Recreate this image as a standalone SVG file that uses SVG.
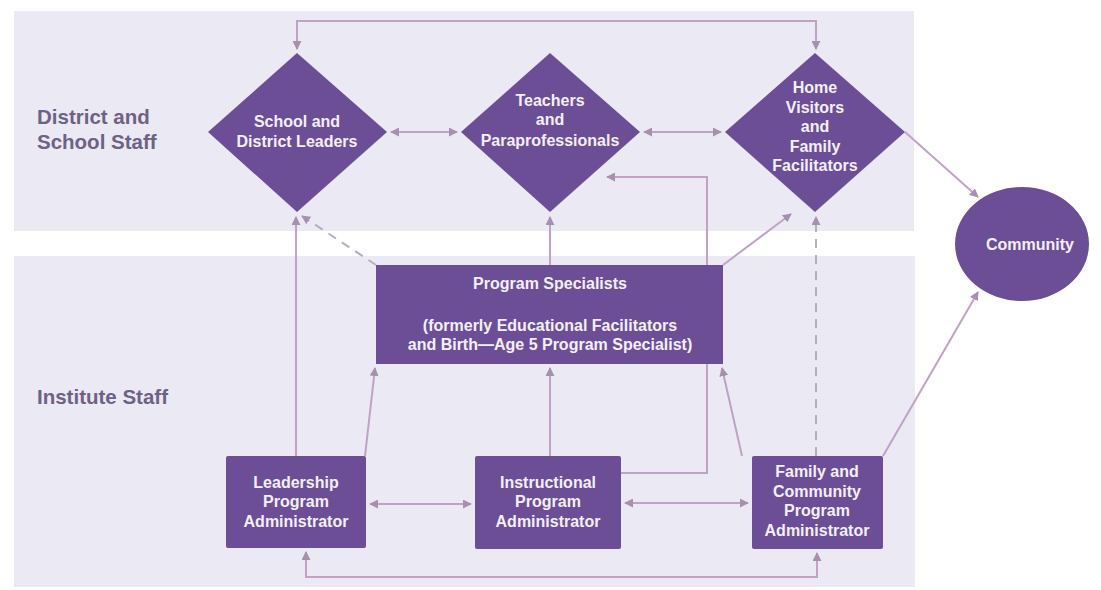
<svg xmlns="http://www.w3.org/2000/svg" width="1101" height="590" viewBox="0 0 1101 590">
<defs>
<style>
.band{fill:#ebe9f3}
.lab{font-family:"Liberation Sans",Arial,sans-serif;font-weight:bold;font-size:20.5px;fill:#6e6284}
.node{fill:#6b4e96}
.t{font-family:"Liberation Sans",Arial,sans-serif;font-weight:bold;font-size:16px;fill:#f3eff8;text-anchor:middle}
.c{fill:none;stroke:#c0a3c4;stroke-width:2}
.d{fill:none;stroke:#b9abc2;stroke-width:2;stroke-dasharray:9 7}
</style>
<marker id="ah" viewBox="0 0 10 10" refX="9" refY="5" markerWidth="4.5" markerHeight="4.5" orient="auto-start-reverse" markerUnits="strokeWidth">
<path d="M0,0 L10,5 L0,10 z" fill="#a78fae"/>
</marker>
</defs>
<rect width="1101" height="590" fill="#ffffff"/>
<rect class="band" x="14" y="11" width="900" height="220"/>
<rect class="band" x="14" y="256" width="901" height="331"/>
<text class="lab" x="37" y="124">District and</text>
<text class="lab" x="37" y="149">School Staff</text>
<text class="lab" x="37" y="404">Institute Staff</text>

<g id="connectors">
<path class="c" d="M297,49 V21 H816 V49" marker-start="url(#ah)" marker-end="url(#ah)"/>
<path class="c" d="M391,132 H457" marker-start="url(#ah)" marker-end="url(#ah)"/>
<path class="c" d="M644,132 H721" marker-start="url(#ah)" marker-end="url(#ah)"/>
<path class="c" d="M905,132 L978,197" marker-end="url(#ah)"/>
<path class="c" d="M883,456 L978,292" marker-end="url(#ah)"/>
<path class="c" d="M296,456 V217" marker-end="url(#ah)"/>
<path class="d" d="M376,265 L302,216" marker-end="url(#ah)"/>
<path class="c" d="M550,265 V217" marker-end="url(#ah)"/>
<path class="c" d="M723,265 L791,214" marker-end="url(#ah)"/>
<path class="d" d="M816,456 V217" marker-end="url(#ah)"/>
<path class="c" d="M365,456 L375,368" marker-end="url(#ah)"/>
<path class="c" d="M550,456 V368" marker-end="url(#ah)"/>
<path class="c" d="M742,456 L722,368" marker-end="url(#ah)"/>
<path class="c" d="M621,473 H707 V177 H607" marker-end="url(#ah)"/>
<path class="c" d="M370,504 H471" marker-start="url(#ah)" marker-end="url(#ah)"/>
<path class="c" d="M625,503 H748" marker-start="url(#ah)" marker-end="url(#ah)"/>
<path class="c" d="M306,552 V577 H817 V553" marker-start="url(#ah)" marker-end="url(#ah)"/>
</g>

<g id="school-leaders">
<polygon class="node" points="297,53 387,132 297,212 208,132"/>
<text class="t" x="297" y="127">School and</text>
<text class="t" x="297" y="147">District Leaders</text>
</g>
<g id="teachers">
<polygon class="node" points="550,53 640,132 550,212 461,132"/>
<text class="t" x="550" y="106">Teachers</text>
<text class="t" x="550" y="125">and</text>
<text class="t" x="550" y="146">Paraprofessionals</text>
</g>
<g id="home-visitors">
<polygon class="node" points="815,53 905,132 815,212 725,132"/>
<text class="t" x="815" y="93">Home</text>
<text class="t" x="815" y="113">Visitors</text>
<text class="t" x="815" y="132">and</text>
<text class="t" x="815" y="152">Family</text>
<text class="t" x="815" y="171">Facilitators</text>
</g>
<g id="community">
<ellipse class="node" cx="1022" cy="244" rx="67" ry="57"/>
<text class="t" x="1030" y="250">Community</text>
</g>
<g id="program-specialists">
<rect class="node" x="376" y="265" width="347" height="99"/>
<text class="t" x="550" y="289">Program Specialists</text>
<text class="t" x="550" y="331">(formerly Educational Facilitators</text>
<text class="t" x="550" y="350">and Birth—Age 5 Program Specialist)</text>
</g>
<g id="leadership-admin">
<rect class="node" x="226" y="456" width="140" height="92" rx="2"/>
<text class="t" x="296" y="488">Leadership</text>
<text class="t" x="296" y="507">Program</text>
<text class="t" x="296" y="527">Administrator</text>
</g>
<g id="instructional-admin">
<rect class="node" x="475" y="456" width="146" height="93" rx="2"/>
<text class="t" x="548" y="488">Instructional</text>
<text class="t" x="548" y="507">Program</text>
<text class="t" x="548" y="527">Administrator</text>
</g>
<g id="family-admin">
<rect class="node" x="752" y="456" width="131" height="93" rx="2"/>
<text class="t" x="817" y="477">Family and</text>
<text class="t" x="817" y="497">Community</text>
<text class="t" x="817" y="516">Program</text>
<text class="t" x="817" y="536">Administrator</text>
</g>
</svg>
